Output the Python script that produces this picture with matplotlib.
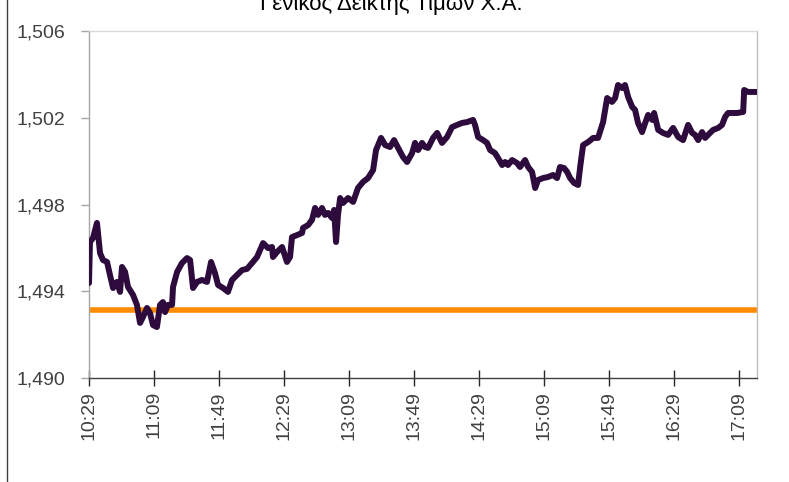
import matplotlib

matplotlib.use("Agg")
import matplotlib.pyplot as plt
from matplotlib.lines import Line2D
from matplotlib.ticker import FuncFormatter

# minutes elapsed since 10:29 and index level
elapsed_min = [
    0, 0.6, 2.5, 4.9, 6.8, 8.6, 11.1, 12.9, 14.8, 17.2, 19.1, 20.3, 22.2, 24.0, 27.1,
    29.5, 31.4, 33.2, 35.7, 37.5, 39.4, 41.8, 43.7, 45.5, 46.8, 48.6, 51.1, 51.7, 54.2,
    57.2, 60.3, 62.2, 64.0, 66.5, 69.5, 72.6, 75.1, 77.5, 79.4, 82.5, 85.5, 88.0, 91.1,
    94.2, 97.2, 100.3, 103.4, 107.1, 110.2, 112.6, 113.2, 115.7, 118.8, 121.8, 123.7,
    124.9, 128.0, 131.1, 131.7, 134.8, 137.2, 139.1, 140.9, 143.4, 145.2, 147.1, 149.5,
    150.8, 152.0, 153.2, 154.5, 156.3, 159.4, 162.5, 165.5, 168.6, 171.7, 174.8, 176.6,
    179.7, 182.2, 185.2, 187.7, 190.2, 193.2, 195.7, 198.8, 200.6, 202.5, 204.9, 206.8,
    208.6, 211.7, 214.2, 217.2, 220.3, 223.4, 226.5, 229.5, 232.6, 236.3, 237.5, 239.4,
    242.5, 244.9, 246.8, 249.8, 251.7, 254.2, 256.0, 257.8, 260.3, 263.4, 265.2, 268.3,
    270.2, 272.6, 274.5, 276.3, 279.4, 282.5, 285.5, 288.0, 289.8, 292.3, 294.2, 296.0,
    298.5, 300.9, 302.2, 304.0, 307.1, 310.2, 313.2, 316.3, 318.8, 321.8, 323.7, 325.5,
    328.0, 329.8, 331.7, 334.2, 336.0, 337.8, 340.3, 342.2, 344.0, 346.5, 347.7, 350.2,
    353.2, 356.3, 359.4, 362.5, 365.5, 368.6, 371.1, 372.9, 374.8, 377.2, 379.1, 380.9,
    384.0, 387.1, 389.5, 391.4, 393.2, 398.8, 402.5, 403.1, 405.5, 411.0,
]
index_level = [
    1494.38, 1496.27, 1496.46, 1497.15, 1495.76, 1495.44, 1495.35, 1494.75, 1494.15,
    1494.43, 1493.97, 1495.12, 1494.89, 1494.20, 1493.83, 1493.37, 1492.54, 1492.81,
    1493.23, 1493.00, 1492.44, 1492.35, 1493.37, 1493.50, 1493.04, 1493.37, 1493.37,
    1494.20, 1494.89, 1495.30, 1495.53, 1495.44, 1494.15, 1494.43, 1494.52, 1494.43,
    1495.35, 1494.84, 1494.29, 1494.15, 1493.97, 1494.52, 1494.75, 1494.98, 1495.03,
    1495.30, 1495.58, 1496.22, 1495.99, 1496.04, 1495.58, 1495.81, 1496.04, 1495.35,
    1495.58, 1496.50, 1496.59, 1496.69, 1496.92, 1497.05, 1497.29, 1497.84, 1497.52,
    1497.84, 1497.52, 1497.61, 1497.38, 1497.75, 1496.27, 1497.52, 1498.30, 1498.07,
    1498.30, 1498.12, 1498.76, 1499.04, 1499.22, 1499.59, 1500.51, 1501.07, 1500.74,
    1500.65, 1500.97, 1500.61, 1500.19, 1499.96, 1500.37, 1500.84, 1500.51, 1500.84,
    1500.65, 1500.61, 1501.07, 1501.30, 1500.84, 1501.11, 1501.57, 1501.67, 1501.76,
    1501.80, 1501.90, 1501.67, 1501.11, 1500.97, 1500.84, 1500.51, 1500.37, 1500.14,
    1499.82, 1499.96, 1499.82, 1500.05, 1499.91, 1499.73, 1500.05, 1499.73, 1499.50,
    1498.76, 1499.13, 1499.22, 1499.27, 1499.36, 1499.22, 1499.73, 1499.68, 1499.50,
    1499.22, 1498.99, 1498.90, 1499.73, 1500.74, 1500.88, 1501.07, 1501.07, 1501.80,
    1502.91, 1502.73, 1502.91, 1503.51, 1503.37, 1503.51, 1502.96, 1502.50, 1502.36,
    1501.76, 1501.34, 1501.76, 1502.13, 1501.90, 1502.22, 1501.44, 1501.30, 1501.21,
    1501.53, 1501.11, 1500.97, 1501.67, 1501.30, 1501.21, 1500.97, 1501.34, 1501.07,
    1501.21, 1501.44, 1501.53, 1501.67, 1502.04, 1502.22, 1502.22, 1502.27, 1503.28,
    1503.19, 1503.19,
]
previous_close = 1493.13

tick_minutes = [0, 40, 80, 120, 160, 200, 240, 280, 320, 360, 400]
tick_labels = ["10:29", "11:09", "11:49", "12:29", "13:09", "13:49",
               "14:29", "15:09", "15:49", "16:29", "17:09"]
y_ticks = [1490, 1494, 1498, 1502, 1506]

plt.rcParams["font.family"] = ["Liberation Sans", "DejaVu Sans"]

fig = plt.figure(figsize=(7.89, 4.82), dpi=100)
ax = fig.add_axes((89 / 789, 1 - 378 / 482, 668 / 789, 347 / 482))

ax.axhline(previous_close, color="#ff8c00", lw=4.0, zorder=2)
ax.plot(elapsed_min, index_level, color="#2d0b3c", lw=4.3,
        solid_joinstyle="round", solid_capstyle="round", zorder=3)

ax.set_xlim(0, 411)
ax.set_ylim(1490, 1506)
ax.set_xticks(tick_minutes)
ax.set_xticklabels(tick_labels, rotation=90)
ax.set_yticks(y_ticks)
ax.yaxis.set_major_formatter(FuncFormatter(lambda v, _: f"{v:,.0f}"))

ax.tick_params(axis="y", direction="out", length=6, width=1, color="#a6a6a6",
               labelsize=14, labelcolor="#404040", pad=11)
ax.tick_params(axis="x", direction="inout", length=11, width=1, color="#262626",
               labelsize=14, labelcolor="#404040", pad=4)

ax.spines["left"].set_color("#a6a6a6")
ax.spines["bottom"].set_color("#404040")
ax.spines["top"].set_color("#d9d9d9")
ax.spines["right"].set_color("#bfbfbf")
for s in ax.spines.values():
    s.set_linewidth(1)

# title is clipped at the top edge, as in the source image
fig.text(0.4962, 1 - 10 / 482, "Γενικός Δείκτης Τιμών Χ.Α.", ha="center",
         va="baseline", fontsize=16, color="#000000")
fig.add_artist(Line2D([7 / 789, 7 / 789], [0, 1], color="#404040", lw=1))

fig.savefig("out.png", dpi=100)
